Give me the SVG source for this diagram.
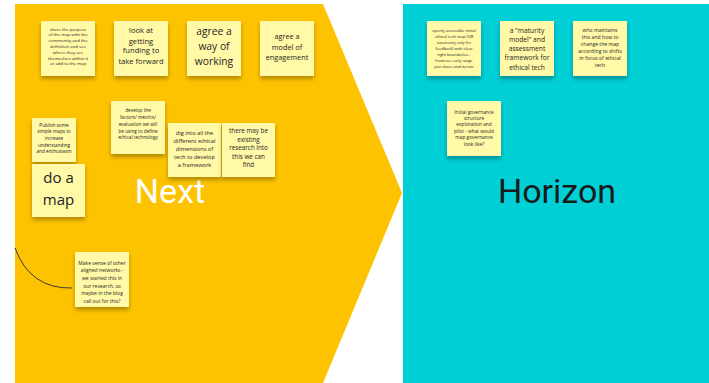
<svg xmlns="http://www.w3.org/2000/svg" width="709" height="383" viewBox="0 0 709 383">
<style>
.note{fill:#FFF9A8;}
.t{font-family:"Open Sans","Liberation Sans",sans-serif;fill:#1e1e1e;text-anchor:middle;}
.big{font-family:Roboto,"Liberation Sans",sans-serif;font-size:34px;text-anchor:middle;}
</style>
<defs>
<filter id="sh" x="-20%" y="-20%" width="140%" height="150%">
<feDropShadow dx="0" dy="3" stdDeviation="2" flood-color="#000" flood-opacity="0.3"/>
</filter>
</defs>
<rect width="709" height="383" fill="#ffffff"/>
<g id="next-area">
<path d="M15,4 L323,4 L402,193 L323,383 L15,383 Z" fill="#FEC300"/>
<text class="big" x="170" y="203" fill="#ffffff">Next</text>
</g>
<g id="horizon-area">
<rect x="403" y="4" width="306" height="379" fill="#00CFD6"/>
<text class="big" x="557" y="203" fill="#1a1a1a">Horizon</text>
</g>
<g id="connectors">
<path d="M15,248 Q30,289 72,288" fill="none" stroke="#3a3a3a" stroke-width="1"/>
</g>
<g id="n1"><rect class="note" x="41" y="21" width="54" height="55" filter="url(#sh)"/>
<text class="t" font-size="4.3">
<tspan x="68" y="30.5">share the purpose</tspan><tspan x="68" y="36.3">of the map with the</tspan><tspan x="68" y="42.1">community and the</tspan><tspan x="68" y="47.9">definition and see</tspan><tspan x="68" y="53.7">where they see</tspan><tspan x="68" y="59.5">themselves within it</tspan><tspan x="68" y="65.3">or add to the map</tspan></text></g>
<g id="n2"><rect class="note" x="114" y="21" width="54" height="55" filter="url(#sh)"/>
<text class="t" font-size="7.6">
<tspan x="141" y="33.3">look at</tspan><tspan x="141" y="43.6">getting</tspan><tspan x="141" y="53.3">funding to</tspan><tspan x="141" y="63.6">take forward</tspan></text></g>
<g id="n3"><rect class="note" x="187" y="21" width="54" height="55" filter="url(#sh)"/>
<text class="t" font-size="10.3">
<tspan x="214" y="35.4">agree a</tspan><tspan x="214" y="50.4">way of</tspan><tspan x="214" y="65.4">working</tspan></text></g>
<g id="n4"><rect class="note" x="260" y="21" width="54" height="55" filter="url(#sh)"/>
<text class="t" font-size="7.3">
<tspan x="287" y="39.2">agree a</tspan><tspan x="287" y="49.7">model of</tspan><tspan x="287" y="60.2">engagement</tspan></text></g>
<g id="n5"><rect class="note" x="427" y="21" width="54" height="55" filter="url(#sh)"/>
<text class="t" font-size="4">
<tspan x="454" y="31.5">openly accessible initial</tspan><tspan x="454" y="37.6">ethical tech map (OR</tspan><tspan x="454" y="43.7">taxonomy only for</tspan><tspan x="454" y="49.8">feedback) with clear</tspan><tspan x="454" y="55.9">tight boundaries -</tspan><tspan x="454" y="62">however early stage</tspan><tspan x="454" y="68.1">just share and iterate</tspan></text></g>
<g id="n6"><rect class="note" x="500" y="21" width="54" height="55" filter="url(#sh)"/>
<text class="t" font-size="6.7">
<tspan x="527" y="32.5">a "maturity</tspan><tspan x="527" y="41.8">model" and</tspan><tspan x="527" y="51.1">assessment</tspan><tspan x="527" y="60.4">framework for</tspan><tspan x="527" y="69.7">ethical tech</tspan></text></g>
<g id="n7"><rect class="note" x="573" y="21" width="54" height="55" filter="url(#sh)"/>
<text class="t" font-size="5.1">
<tspan x="600" y="31.8">who maintains</tspan><tspan x="600" y="38.8">this and how to</tspan><tspan x="600" y="45.8">change the map</tspan><tspan x="600" y="52.8">according to shifts</tspan><tspan x="600" y="59.8">in focus of ethical</tspan><tspan x="600" y="66.8">tech</tspan></text></g>
<g id="n8"><rect class="note" x="447" y="101" width="54" height="55" filter="url(#sh)"/>
<text class="t" font-size="4.8">
<tspan x="474" y="113.5">Initial governance</tspan><tspan x="474" y="119.9">structure</tspan><tspan x="474" y="126.3">exploration and</tspan><tspan x="474" y="132.7">pilot - what would</tspan><tspan x="474" y="139.1">map governance</tspan><tspan x="474" y="145.5">look like?</tspan></text></g>
<g id="n9"><rect class="note" x="111" y="101" width="54" height="53" filter="url(#sh)"/>
<text class="t" font-size="4.7">
<tspan x="138" y="112.4">develop the</tspan><tspan x="138" y="119.1">factors/ metrics/</tspan><tspan x="138" y="125.8">evaluation we will</tspan><tspan x="138" y="132.5">be using to define</tspan><tspan x="138" y="139.2">ethical technology</tspan></text></g>
<g id="n10"><rect class="note" x="32" y="118" width="44" height="44" filter="url(#sh)"/>
<text class="t" font-size="4.7">
<tspan x="54" y="126.8">Publish some</tspan><tspan x="54" y="133.4">simple maps to</tspan><tspan x="54" y="140">increase</tspan><tspan x="54" y="146.6">understanding</tspan><tspan x="54" y="153.2">and enthusiasm</tspan></text></g>
<g id="n11"><rect class="note" x="32" y="164" width="53" height="53" filter="url(#sh)"/>
<text class="t" font-size="15">
<tspan x="58.5" y="183">do a</tspan><tspan x="58.5" y="205">map</tspan></text></g>
<g id="n12"><rect class="note" x="168" y="123" width="53" height="54" filter="url(#sh)"/>
<text class="t" font-size="5.7">
<tspan x="194.5" y="135">dig into all the</tspan><tspan x="194.5" y="143">different ethical</tspan><tspan x="194.5" y="151">dimensions of</tspan><tspan x="194.5" y="159">tech to develop</tspan><tspan x="194.5" y="167">a framework</tspan></text></g>
<g id="n13"><rect class="note" x="222" y="123" width="53" height="54" filter="url(#sh)"/>
<text class="t" font-size="6.3">
<tspan x="248.5" y="133.2">there may be</tspan><tspan x="248.5" y="141.7">existing</tspan><tspan x="248.5" y="150.2">research into</tspan><tspan x="248.5" y="158.7">this we can</tspan><tspan x="248.5" y="167.2">find</tspan></text></g>
<g id="n14"><rect class="note" x="75" y="252" width="54" height="55" filter="url(#sh)"/>
<text class="t" font-size="5">
<tspan x="102" y="264.8">Make sense of other</tspan><tspan x="102" y="272.4">aligned networks -</tspan><tspan x="102" y="280">we started this in</tspan><tspan x="102" y="287.6">our research, so</tspan><tspan x="102" y="295.2">maybe in the blog</tspan><tspan x="102" y="302.8">call out for this?</tspan></text></g>
</svg>
